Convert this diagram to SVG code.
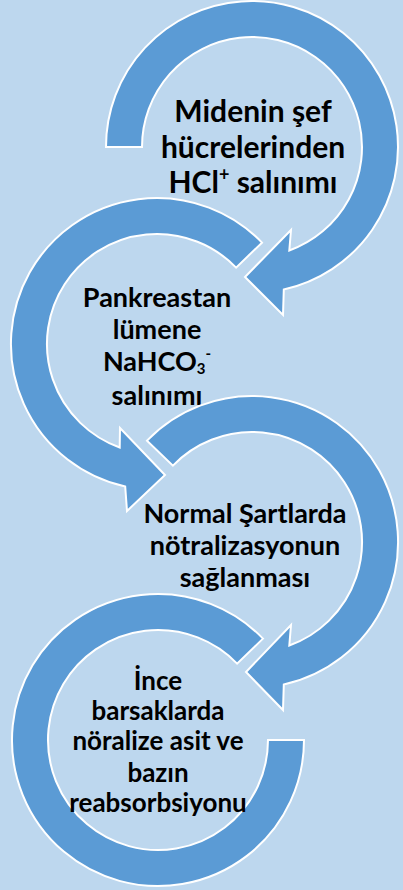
<svg xmlns="http://www.w3.org/2000/svg" width="403" height="890" viewBox="0 0 403 890">
<style>
.arr{fill:#5B9BD5;stroke:#FFFFFF;stroke-width:2;stroke-linejoin:miter}
.t{font-family:Lato,"Open Sans","Liberation Sans",sans-serif;font-weight:700;fill:#000;text-anchor:middle}
</style>
<rect x="0" y="0" width="403" height="890" fill="#BDD7EE"/>
<g id="node1">
<path class="arr" d="M106,147 A146,146 0 1 1 283.8,289.5 L283,315 L245,277 L291,230 L289.3,250.5 A110,110 0 1 0 142,147 Z"/>
<text class="t" font-size="30"><tspan x="253" y="122">Midenin şef</tspan><tspan x="253" y="158">hücrelerinden</tspan><tspan x="253" y="193">HCl<tspan font-size="18" dy="-12">+</tspan><tspan dy="12"> salınımı</tspan></tspan></text>
</g>
<g id="node2">
<path class="arr" d="M262,242.6 A146,146 0 1 0 125.2,486.5 L127,511 L165,475 L120,428 L119.7,447.5 A110,110 0 1 1 236.1,267.6 Z"/>
<text class="t" font-size="27"><tspan x="157" y="307">Pankreastan</tspan><tspan x="157" y="339">lümene</tspan><tspan x="157" y="371">NaHCO<tspan font-size="15" dy="3">3</tspan><tspan font-size="15" dy="-15">-</tspan></tspan><tspan x="157" y="405">salınımı</tspan></text>
</g>
<g id="node3">
<path class="arr" d="M147,440.6 A146,146 0 1 1 283.8,684.5 L283,710 L246,672 L291,625 L289.3,645.5 A110,110 0 1 0 172.9,465.6 Z"/>
<text class="t" font-size="27"><tspan x="245" y="523">Normal Şartlarda</tspan><tspan x="245" y="555">nötralizasyonun</tspan><tspan x="245" y="587">sağlanması</tspan></text>
</g>
<g id="node4">
<path class="arr" d="M263,638.6 A146,146 0 1 0 304,740 L268,740 A110,110 0 1 1 237.1,663.6 Z"/>
<text class="t" font-size="26"><tspan x="158" y="690">İnce</tspan><tspan x="158" y="720">barsaklarda</tspan><tspan x="158" y="750">nöralize asit ve</tspan><tspan x="158" y="782">bazın</tspan><tspan x="158" y="812">reabsorbsiyonu</tspan></text>
</g>
<g id="connectors"></g>
</svg>
